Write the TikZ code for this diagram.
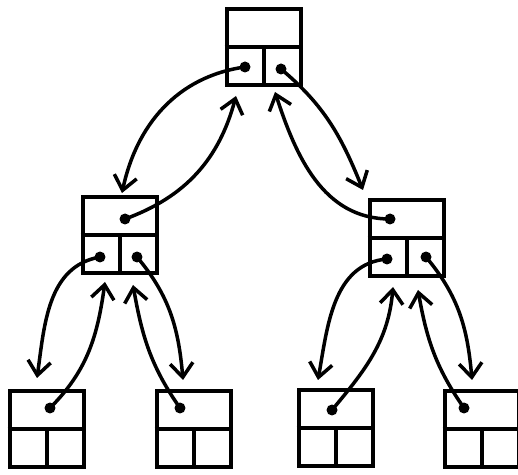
\documentclass[tikz,border=0pt]{standalone}
\usetikzlibrary{arrows.meta}
\tikzset{
  cell/.style={draw, line width=2.6pt, minimum width=1.48cm, minimum height=1.52cm, inner sep=0pt},
  dot/.style={circle, fill, inner sep=0pt, minimum size=0.22cm},
  link/.style={line width=2pt, -{Straight Barb[length=8pt,width=13pt,line width=2pt]}}
}
\begin{document}
\begin{tikzpicture}[x=0.02cm,y=0.02cm]
      \useasboundingbox (0,0) rectangle (518,474);
      \node[cell] (root) at (264,427) {};
      \node[cell] (l) at (120,239) {};
      \node[cell] (r) at (407,236) {};
      \node[cell] (ll) at (47,45) {};
      \node[cell] (lr) at (194,45) {};
      \node[cell] (rl) at (336,46) {};
      \node[cell] (rr) at (482,45) {};
      \draw[line width=2.6pt] (root.west) -- (root.east) (root.center) -- (root.south);
      \draw[line width=2.6pt] (l.west) -- (l.east) (l.center) -- (l.south);
      \draw[line width=2.6pt] (r.west) -- (r.east) (r.center) -- (r.south);
      \draw[line width=2.6pt] (ll.west) -- (ll.east) (ll.center) -- (ll.south);
      \draw[line width=2.6pt] (lr.west) -- (lr.east) (lr.center) -- (lr.south);
      \draw[line width=2.6pt] (rl.west) -- (rl.east) (rl.center) -- (rl.south);
      \draw[line width=2.6pt] (rr.west) -- (rr.east) (rr.center) -- (rr.south);
      \node[dot] (rootL) at (245,407) {};
      \node[dot] (rootR) at (281,405) {};
      \node[dot] (lT) at (125,255) {};
      \node[dot] (lL) at (100,217) {};
      \node[dot] (lR) at (137,217) {};
      \node[dot] (rT) at (390,255) {};
      \node[dot] (rL) at (387,215) {};
      \node[dot] (rR) at (426,217) {};
      \node[dot] (llT) at (50,66) {};
      \node[dot] (lrT) at (180,66) {};
      \node[dot] (rlT) at (332,64) {};
      \node[dot] (rrT) at (464,66) {};
      \coordinate (lIn) at (122,281);
      \coordinate (rootInL) at (236,378);
      \coordinate (rIn) at (363,284);
      \coordinate (rootInR) at (275,382);
      \coordinate (llIn) at (37,96);
      \coordinate (lInL) at (105,192);
      \coordinate (lrIn) at (183,94);
      \coordinate (lInR) at (133,189);
      \coordinate (rlIn) at (318,94);
      \coordinate (rInL) at (393,187);
      \coordinate (rrIn) at (472,94);
      \coordinate (rInR) at (418,184);
      \draw[link] (rootL.center) to[out=188,in=78] (lIn);
      \draw[link] (lT.center) to[out=20,in=-105] (rootInL);
      \draw[link] (rootR.center) to[out=-40,in=112] (rIn);
      \draw[link] (rT.center) to[out=180,in=-72] (rootInR);
      \draw[link] (lL.center) to[out=190,in=82] (llIn);
      \draw[link] (llT.center) to[out=45,in=-98] (lInL);
      \draw[link] (lR.center) to[out=-50,in=95] (lrIn);
      \draw[link] (lrT.center) to[out=125,in=-80] (lInR);
      \draw[link] (rL.center) to[out=185,in=80] (rlIn);
      \draw[link] (rlT.center) to[out=50,in=-95] (rInL);
      \draw[link] (rR.center) to[out=-50,in=95] (rrIn);
      \draw[link] (rrT.center) to[out=125,in=-80] (rInR);
    \end{tikzpicture}
\end{document}
